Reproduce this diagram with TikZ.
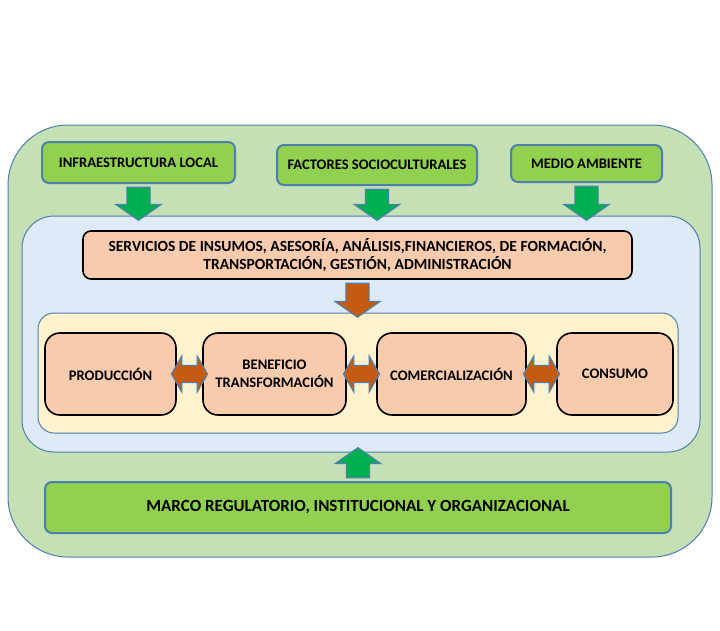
\documentclass[tikz,border=0pt]{standalone}
\usepackage{fontspec}
\setmainfont{Carlito}
\usepackage{tikz}
\usetikzlibrary{positioning, shapes.arrows, calc}
\definecolor{edgeblue}{HTML}{4F7FAD}
\definecolor{outergreen}{HTML}{C5E0B4}
\definecolor{panelblue}{HTML}{DEEBF7}
\definecolor{panelyellow}{HTML}{FFF2CC}
\definecolor{boxgreen}{HTML}{92D050}
\definecolor{boxorange}{HTML}{F8CBAD}
\definecolor{arrgreen}{HTML}{00B050}
\definecolor{arrorange}{HTML}{C55A11}

\begin{document}
\begin{tikzpicture}[x=1pt, y=-1pt,
                panel/.style={draw=edgeblue, line width=1pt, rectangle, inner sep=0pt},
                factor/.style={draw=edgeblue, line width=2pt, fill=boxgreen, rectangle, rounded corners=7pt, align=center, font=\fontsize{14.6}{17}\selectfont\bfseries},
                stage/.style={draw=black, line width=1.6pt, fill=boxorange, rectangle, rounded corners=15pt, align=center, font=\fontsize{14.6}{17.5}\selectfont\bfseries},
                downarrow/.style={single arrow, draw=edgeblue, line width=1.2pt, fill=arrgreen, inner xsep=11pt, inner ysep=0pt, single arrow head extend=11pt, single arrow tip angle=110, shape border rotate=270},
                linkarrow/.style={double arrow, draw=edgeblue, line width=1.2pt, fill=arrorange, inner xsep=0pt, inner ysep=8pt, double arrow head extend=9pt, double arrow tip angle=120, minimum height=36pt}
            ]
            \useasboundingbox (0,0) rectangle (720,630);

            % Rahmen
            \node[panel, fill=outergreen, rounded corners=60pt, minimum width=704pt, minimum height=432pt] (outer) at (360,341) {};
            \node[panel, fill=panelblue, rounded corners=32pt, minimum width=678pt, minimum height=236pt] (chain) at (361,334) {};
            \node[panel, fill=panelyellow, rounded corners=16pt, minimum width=640pt, minimum height=120pt] (core) at (358,373) {};

            % Faktoren oben
            \node[factor, minimum width=193pt, minimum height=41pt] (infra) at (138.5,162.5) {INFRAESTRUCTURA LOCAL};
            \node[factor, minimum width=200pt, minimum height=40pt] (socio) at (377,165) {FACTORES SOCIOCULTURALES};
            \node[factor, minimum width=151pt, minimum height=37pt] (medio) at (586.5,163.5) {MEDIO AMBIENTE};

            % Dienstleistungen
            \node[stage, rounded corners=8pt, minimum width=549pt, minimum height=48pt, font=\fontsize{15.5}{18}\selectfont\bfseries] (servicios) at (357.5,255) {SERVICIOS DE INSUMOS, ASESORÍA, ANÁLISIS,FINANCIEROS, DE FORMACIÓN,\\TRANSPORTACIÓN, GESTIÓN, ADMINISTRACIÓN};

            % Kette
            \node[stage, minimum width=131pt, minimum height=82pt] (prod) at (110.5,374) {PRODUCCIÓN};
            \node[stage, minimum width=143pt, minimum height=82pt] (benef) at (274.5,374) {BENEFICIO\\TRANSFORMACIÓN};
            \node[stage, minimum width=149pt, minimum height=82pt] (comer) at (451.5,374) {COMERCIALIZACIÓN};
            \node[stage, minimum width=116pt, minimum height=82pt] (consumo) at (615,374) {CONSUMO};

            % Rahmen unten
            \node[factor, minimum width=626pt, minimum height=51pt, font=\fontsize{17}{20}\selectfont\bfseries] (marco) at (358,507.5) {MARCO REGULATORIO, INSTITUCIONAL Y ORGANIZACIONAL};

            % Pfeile
            \node[downarrow, minimum height=33pt] (a1) at ($(infra.south)!0.5!(infra.south |- chain.north)$) {};
            \node[downarrow, minimum height=31pt] (a2) at ($(socio.south)!0.5!(socio.south |- chain.north)$) {};
            \node[downarrow, minimum height=34pt] (a3) at ($(medio.south)!0.5!(medio.south |- chain.north)$) {};
            \node[downarrow, fill=arrorange, minimum height=34pt] (a4) at ($(servicios.south)!0.5!(servicios.south |- core.north)$) {};
            \node[downarrow, shape border rotate=90, minimum height=30pt] (a5) at ($(marco.north)!0.5!(marco.north |- chain.south)$) {};
            \node[linkarrow] (l1) at ($(prod.east)!0.5!(benef.west)$) {};
            \node[linkarrow] (l2) at ($(benef.east)!0.5!(comer.west)$) {};
            \node[linkarrow] (l3) at ($(comer.east)!0.5!(consumo.west)$) {};

        \end{tikzpicture}
\end{document}
